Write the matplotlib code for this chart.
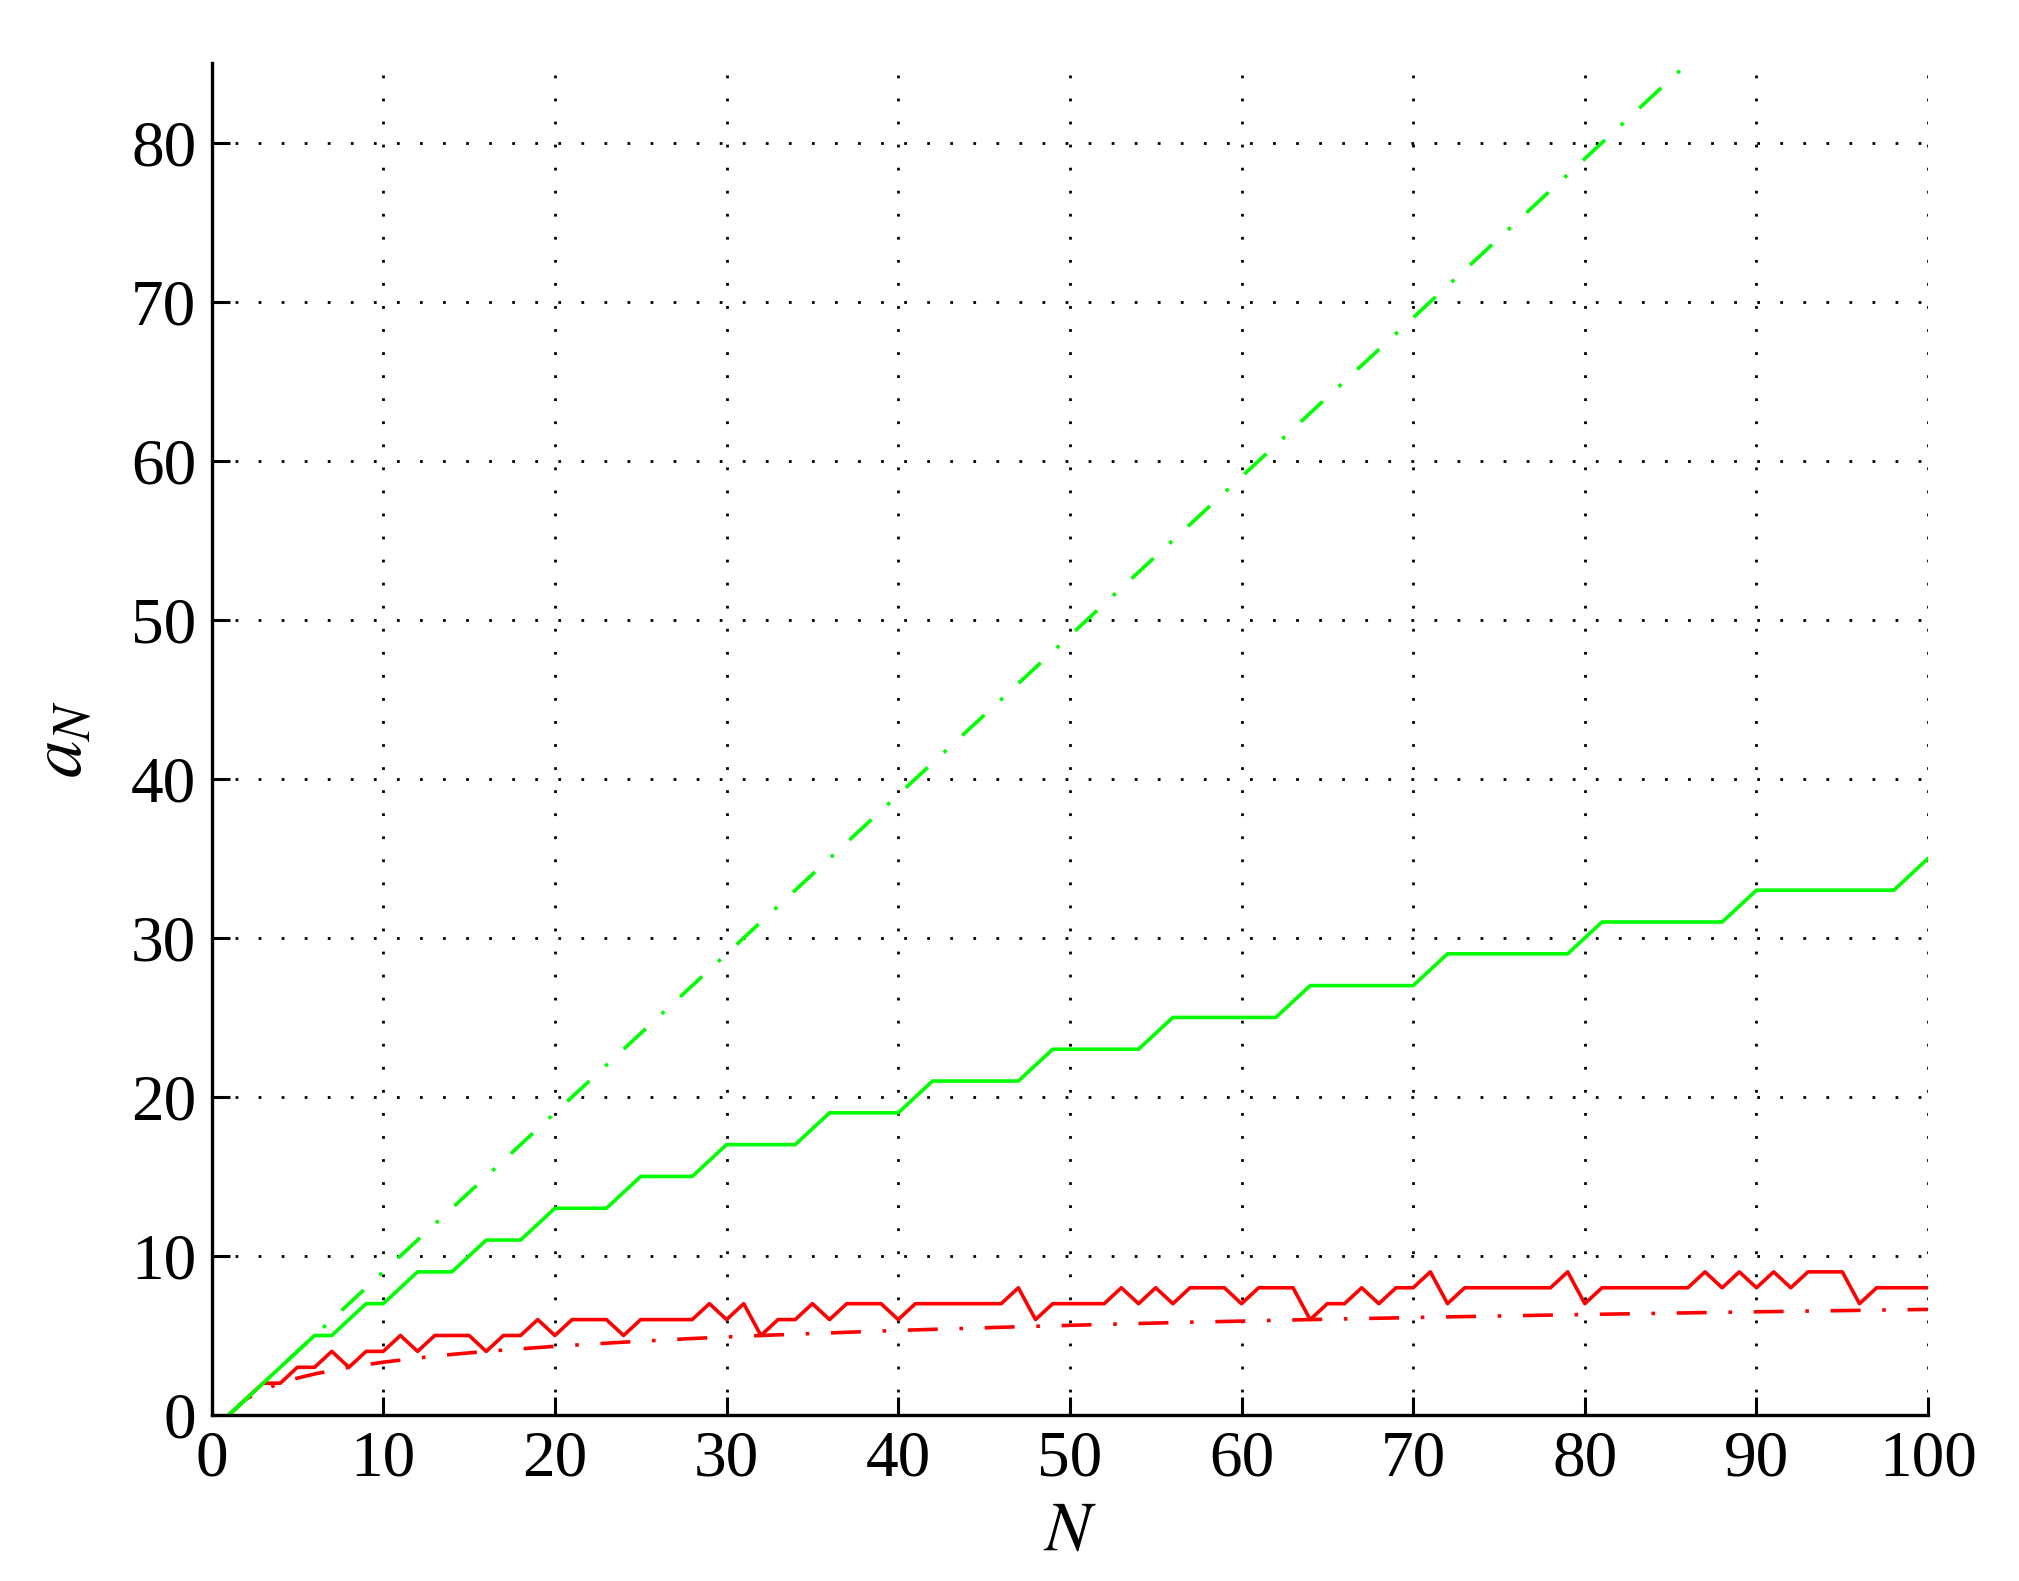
import matplotlib
matplotlib.use("Agg")
import matplotlib.pyplot as plt

# зчитані з графіка значення
n_red = list(range(1, 101))
a_red = [0, 1, 2, 2, 3, 3, 4, 3, 4, 4,
         5, 4, 5, 5, 5, 4, 5, 5, 6, 5,
         6, 6, 6, 5, 6, 6, 6, 6, 7, 6,
         7, 5, 6, 6, 7, 6, 7, 7, 7, 6,
         7, 7, 7, 7, 7, 7, 8, 6, 7, 7,
         7, 7, 8, 7, 8, 7, 8, 8, 8, 7,
         8, 8, 8, 6, 7, 7, 8, 7, 8, 8,
         9, 7, 8, 8, 8, 8, 8, 8, 9, 7,
         8, 8, 8, 8, 8, 8, 9, 8, 9, 8,
         9, 8, 9, 9, 9, 7, 8, 8, 8, 8]

n_red_bound = [1, 2, 3, 4, 5, 6, 8, 10, 12, 14, 16, 20, 24, 28, 32,
               40, 48, 56, 64, 72, 80, 90, 100]
a_red_bound = [0, 1, 1.58, 2, 2.32, 2.58, 3, 3.32, 3.58, 3.81, 4, 4.32,
               4.58, 4.81, 5, 5.32, 5.58, 5.81, 6, 6.17, 6.32, 6.49, 6.64]

n_green = [1, 6, 7, 9, 10, 12, 14, 16, 18, 20, 23, 25, 28, 30, 34, 36, 40,
           42, 47, 49, 54, 56, 62, 64, 70, 72, 79, 81, 88, 90, 98, 100]
a_green = [0, 5, 5, 7, 7, 9, 9, 11, 11, 13, 13, 15, 15, 17, 17, 19, 19,
           21, 21, 23, 23, 25, 25, 27, 27, 29, 29, 31, 31, 33, 33, 35]

n_green_bound = [1, 100]
a_green_bound = [0, 99]

plt.rcParams['font.family'] = ['Liberation Serif', 'DejaVu Serif']
plt.rcParams['mathtext.fontset'] = 'stix'

fig = plt.figure(figsize=(20.19, 15.81), dpi=100)
ax = fig.add_axes([0.1048, 0.105, 0.8502, 0.855])

dashdot = (0, (8.3, 6, 1, 6))
lw = 2.6
ax.plot(n_red, a_red, color=(1, 0, 0), lw=lw)
ax.plot(n_red_bound, a_red_bound, color=(1, 0, 0), lw=lw, linestyle=dashdot)
ax.plot(n_green, a_green, color=(0, 1, 0), lw=lw)
ax.plot(n_green_bound, a_green_bound, color=(0, 1, 0), lw=lw, linestyle=dashdot)

ax.set_xlim(0, 100)
ax.set_ylim(0, 85)
ax.set_xticks(range(0, 101, 10))
ax.set_yticks(range(0, 81, 10))

for side in ['top', 'right']:
    ax.spines[side].set_visible(False)
for side in ['left', 'bottom']:
    ax.spines[side].set_linewidth(2.4)

ax.tick_params(direction='in', length=13, width=2.2, labelsize=47, pad=11)
ax.grid(True, color='black', linewidth=2.0, linestyle=(0, (1, 7.3)))

ax.set_xlabel('$N$', fontsize=50, labelpad=8)
ax.set_ylabel('$a_N$', fontsize=54, labelpad=24)

fig.savefig('out.png', dpi=100)
